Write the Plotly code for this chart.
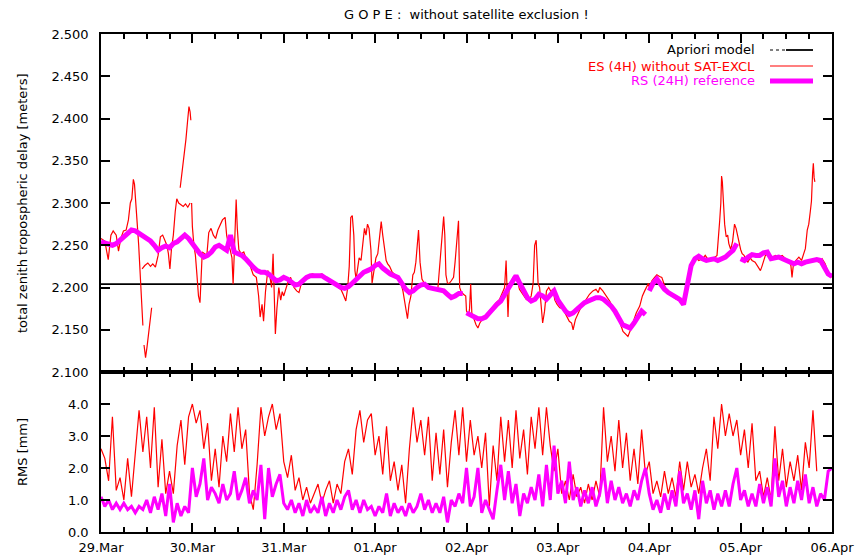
import plotly.graph_objects as go

# ---------------------------------------------------------------- data
# time axis: hours since 29.Mar 00:00
day_hours = [0, 24, 48, 72, 96, 120, 144, 168, 192]
day_labels = ["29.Mar", "30.Mar", "31.Mar", "01.Apr", "02.Apr",
              "03.Apr", "04.Apr", "05.Apr", "06.Apr"]

# a priori zenith delay (m)
apriori_ztd = 2.204

# RS (24H) reference ZTD, hourly 0..192 h (m)
rs_ztd = [
    2.254, 2.253, 2.251, 2.250, 2.252, 2.256, 2.261, 2.265, 2.268, 2.267,
    2.264, 2.261, 2.258, 2.255, 2.250, 2.244, 2.247, 2.249, 2.247, 2.252,
    2.254, 2.258, 2.262, 2.258, 2.252, 2.244, 2.240, 2.236, 2.238, 2.242,
    2.248, 2.250, 2.247, 2.244, 2.262, 2.242, 2.240, 2.238, 2.234, 2.228,
    2.224, 2.220, 2.218, 2.218, 2.216, 2.212, 2.208, 2.209, 2.212, 2.210,
    2.206, 2.203, 2.204, 2.208, 2.212, 2.214, 2.214, 2.213, 2.214, 2.211,
    2.208, 2.206, 2.202, 2.200, 2.199, 2.201, 2.205, 2.210, 2.214, 2.218,
    2.220, 2.222, 2.226, 2.228, 2.223, 2.219, 2.216, 2.214, 2.212, 2.205,
    2.198, 2.194, 2.196, 2.200, 2.203, 2.204, 2.200, 2.199, 2.198, 2.196,
    2.196, 2.192, 2.188, 2.190, 2.193, 2.193, 2.170, 2.168, 2.166, 2.163,
    2.163, 2.165, 2.170, 2.176, 2.180, 2.184, 2.192, 2.198, 2.208, 2.214,
    2.205, 2.195, 2.188, 2.184, 2.186, 2.192, 2.190, 2.186, 2.192, 2.196,
    2.185, 2.178, 2.172, 2.168, 2.170, 2.174, 2.178, 2.182, 2.184, 2.186,
    2.188, 2.188, 2.186, 2.182, 2.178, 2.172, 2.164, 2.156, 2.154, 2.152,
    2.158, 2.166, 2.172, 2.168, 2.196, 2.205, 2.210, 2.203, 2.198, 2.194,
    2.191, 2.189, 2.186, 2.180, 2.205, 2.226, 2.234, 2.237, 2.234, 2.232,
    2.233, 2.234, 2.232, 2.234, 2.236, 2.240, 2.244, 2.252, 2.234, 2.232,
    2.236, 2.239, 2.238, 2.238, 2.241, 2.242, 2.234, 2.235, 2.236, 2.234,
    2.232, 2.230, 2.228, 2.230, 2.228, 2.230, 2.231, 2.232, 2.233, 2.232,
    2.224, 2.216, 2.213,
]
# daily solutions that do not join up
rs_day_breaks = [96, 144, 168]

# ES (4H) ZTD without satellite exclusion: (hour, metres); None = pen up
es_ztd_samples = [
    (0.0, 2.258), (1.0, 2.255), (1.9, 2.233), (2.6, 2.262), (3.2, 2.267),
    (4.0, 2.262), (4.6, 2.243), (5.2, 2.258), (5.9, 2.267), (6.6, 2.268),
    (7.2, 2.280), (7.7, 2.300), (8.1, 2.305), (8.5, 2.328), (8.8, 2.322),
    (9.2, 2.300), (9.6, 2.270), (9.9, 2.250), (10.3, 2.215), (10.7, 2.180),
    (11.0, 2.155), (11.1, None),
    (11.3, 2.132), (11.7, 2.117), (12.1, 2.130), (12.5, 2.145), (12.9, 2.160),
    (13.3, 2.176), (13.4, None),
    (10.8, 2.222), (11.5, 2.226), (12.3, 2.229), (13.0, 2.225), (13.6, 2.228),
    (14.3, 2.224), (15.0, 2.238), (15.6, 2.260), (16.2, 2.262), (16.8, 2.255),
    (17.3, 2.250), (17.7, 2.240), (18.1, 2.222), (18.5, 2.245), (19.0, 2.262),
    (19.5, 2.290), (19.9, 2.305), (20.4, 2.300), (21.0, 2.298), (21.6, 2.296),
    (22.2, 2.299), (22.8, 2.295), (23.4, 2.300), (23.5, None),
    (20.8, 2.318), (21.3, 2.335), (21.8, 2.355), (22.3, 2.375), (22.7, 2.395),
    (23.1, 2.414), (23.4, 2.408), (23.6, 2.398), (23.7, None),
    (23.8, 2.300), (24.0, 2.272), (24.4, 2.250), (24.8, 2.238), (25.2, 2.215),
    (25.6, 2.190), (26.0, 2.182), (26.3, 2.205), (26.6, 2.242), (27.2, 2.240),
    (27.8, 2.238), (28.3, 2.265), (28.9, 2.270), (29.5, 2.262), (30.1, 2.258),
    (30.7, 2.268), (31.3, 2.275), (31.9, 2.280), (32.6, 2.283), (33.0, 2.262),
    (33.5, 2.250), (33.9, 2.245), (34.4, 2.235), (34.7, 2.204), (35.0, 2.240),
    (35.3, 2.290), (35.5, 2.304), (35.8, 2.270), (36.2, 2.245), (36.8, 2.240),
    (37.5, 2.242), (38.3, 2.232), (39.0, 2.228), (40.0, 2.215), (40.8, 2.212),
    (41.4, 2.190), (41.8, 2.165), (42.3, 2.180), (42.7, 2.160), (43.2, 2.195),
    (43.8, 2.220), (44.3, 2.215), (44.8, 2.200), (45.2, 2.240), (45.5, 2.170),
    (45.8, 2.145), (46.2, 2.175), (46.7, 2.200), (47.2, 2.185), (47.6, 2.195),
    (48.0, 2.190), (49.0, 2.205), (49.8, 2.212), (50.7, 2.200), (51.4, 2.196),
    (52.0, 2.194), (52.7, 2.206), (53.4, 2.210), (54.5, 2.214), (55.5, 2.216),
    (56.9, 2.214), (58.0, 2.216), (59.2, 2.212), (60.4, 2.208), (61.5, 2.205),
    (62.3, 2.200), (63.0, 2.198), (63.6, 2.192), (64.3, 2.184), (64.8, 2.200),
    (65.2, 2.225), (65.6, 2.283), (66.0, 2.285), (66.4, 2.262), (66.7, 2.220),
    (67.0, 2.210), (67.4, 2.226), (67.8, 2.235), (68.3, 2.232), (68.8, 2.250),
    (69.2, 2.270), (69.6, 2.262), (70.0, 2.275), (70.4, 2.270), (70.9, 2.244),
    (71.2, 2.205), (71.5, 2.215), (71.8, 2.228), (72.2, 2.235), (72.7, 2.240),
    (73.3, 2.265), (73.6, 2.278), (74.0, 2.262), (74.4, 2.245), (74.9, 2.232),
    (75.3, 2.228), (75.8, 2.225), (76.5, 2.218), (77.5, 2.214), (78.5, 2.210),
    (79.3, 2.196), (79.7, 2.185), (80.1, 2.170), (80.5, 2.163), (80.9, 2.180),
    (81.4, 2.190), (81.9, 2.215), (82.3, 2.218), (82.7, 2.230), (83.1, 2.258),
    (83.4, 2.268), (83.8, 2.230), (84.3, 2.210), (84.9, 2.205), (85.8, 2.200),
    (86.7, 2.198), (87.6, 2.200), (88.5, 2.200), (89.0, 2.230), (89.3, 2.243),
    (89.7, 2.262), (90.0, 2.284), (90.3, 2.262), (90.6, 2.215), (91.0, 2.205),
    (91.5, 2.205), (92.0, 2.208), (92.6, 2.212), (93.0, 2.230), (93.5, 2.262),
    (93.9, 2.279), (94.2, 2.200), (94.6, 2.195), (95.2, 2.192), (95.8, 2.190),
    (96.0, 2.172), (96.6, 2.168), (96.8, 2.175), (97.1, 2.204), (97.4, 2.170),
    (98.0, 2.162), (98.5, 2.156), (99.0, 2.152), (99.5, 2.158), (100.3, 2.163),
    (101.2, 2.168), (102.0, 2.172), (102.9, 2.178), (103.8, 2.182), (104.7, 2.186),
    (105.5, 2.194), (106.0, 2.200), (106.4, 2.232), (106.7, 2.200), (106.9, 2.165),
    (107.2, 2.200), (107.8, 2.206), (108.2, 2.212), (108.8, 2.214), (109.5, 2.206),
    (109.9, 2.198), (110.8, 2.192), (111.7, 2.186), (112.4, 2.184), (113.0, 2.190),
    (113.5, 2.205), (113.9, 2.250), (114.3, 2.256), (114.6, 2.230), (114.8, 2.205),
    (115.2, 2.200), (115.6, 2.175), (116.0, 2.158), (116.5, 2.172), (117.0, 2.196),
    (117.6, 2.200), (118.2, 2.195), (118.7, 2.198), (119.2, 2.185), (119.8, 2.180),
    (120.5, 2.176), (121.3, 2.175), (122.2, 2.166), (123.0, 2.160), (123.6, 2.158),
    (124.0, 2.150), (124.6, 2.162), (125.3, 2.170), (126.0, 2.176), (126.6, 2.180),
    (127.5, 2.186), (128.3, 2.192), (129.2, 2.196), (130.0, 2.198), (130.6, 2.194),
    (131.0, 2.200), (131.8, 2.196), (132.7, 2.190), (133.6, 2.184), (134.5, 2.176),
    (135.3, 2.168), (136.2, 2.160), (137.1, 2.148), (137.8, 2.145), (138.4, 2.142),
    (139.1, 2.150), (139.8, 2.160), (140.6, 2.170), (141.5, 2.178), (142.2, 2.190),
    (142.8, 2.196), (143.3, 2.200), (143.8, 2.205),
    (144.0, 2.200), (144.7, 2.208), (145.4, 2.212), (146.0, 2.215), (146.7, 2.213),
    (147.3, 2.212), (148.2, 2.200), (149.1, 2.192), (150.0, 2.190), (150.8, 2.187),
    (151.7, 2.185), (152.6, 2.183), (153.4, 2.190), (154.3, 2.210), (155.2, 2.228),
    (156.1, 2.236), (157.0, 2.232), (158.0, 2.234), (158.7, 2.238), (159.6, 2.232),
    (160.5, 2.234), (161.3, 2.236), (161.8, 2.238), (162.2, 2.258), (162.5, 2.279),
    (162.8, 2.300), (163.0, 2.332), (163.2, 2.325), (163.5, 2.298), (163.8, 2.275),
    (164.2, 2.260), (164.6, 2.262), (164.9, 2.252), (165.4, 2.245), (165.9, 2.255),
    (166.4, 2.275), (166.8, 2.270), (167.2, 2.262), (167.6, 2.252), (168.0, 2.245),
    (168.4, 2.240), (168.9, 2.238), (169.4, 2.232), (169.9, 2.230), (170.5, 2.235),
    (171.0, 2.232), (171.8, 2.230), (172.5, 2.225), (173.2, 2.220), (173.6, 2.225),
    (174.5, 2.238), (175.3, 2.240), (176.3, 2.236), (177.2, 2.238), (178.0, 2.236),
    (178.9, 2.238), (179.8, 2.234), (180.6, 2.232), (181.2, 2.226), (181.5, 2.212),
    (181.8, 2.225), (182.5, 2.232), (183.3, 2.236), (184.0, 2.232), (184.6, 2.240),
    (185.0, 2.246), (185.5, 2.268), (185.9, 2.275), (186.3, 2.290), (186.6, 2.302),
    (186.9, 2.335), (187.1, 2.347), (187.3, 2.330), (187.5, 2.325), (187.6, None),
    (187.8, 2.232), (188.6, 2.230), (189.4, 2.234), (190.2, 2.228), (191.0, 2.218),
    (191.6, 2.215), (192.0, 2.212),
]

# RMS of ES (4H) solutions, hourly 0..188 h (mm)
rms_es = [
    2.6, 2.3, 1.6, 3.6, 1.3, 1.7, 1.0, 2.3, 1.1, 2.6,
    3.8, 2.5, 3.6, 2.0, 3.9, 1.4, 2.9, 1.2, 1.9, 1.2,
    2.7, 3.5, 2.1, 3.6, 4.0, 3.4, 3.8, 2.6, 3.4, 1.6,
    2.6, 1.4, 3.0, 2.2, 3.7, 2.5, 3.9, 2.6, 3.2, 1.2,
    0.7, 2.1, 3.9, 3.0, 3.6, 4.0, 3.2, 3.7, 2.2, 1.7,
    2.4, 1.3, 1.7, 1.0, 1.4, 0.9, 1.2, 1.5, 0.9, 1.3,
    1.6, 0.9, 1.5, 1.2, 2.2, 2.6, 1.8, 3.2, 3.8, 2.8,
    3.5, 3.7, 2.4, 3.0, 1.8, 3.3, 1.6, 2.2, 1.3, 2.1,
    0.9, 2.6, 3.9, 2.8, 3.5, 2.4, 3.6, 1.6, 3.1, 1.8,
    3.2, 1.4, 2.8, 3.8, 2.4, 3.9, 2.2, 3.5, 2.4, 3.0,
    2.0, 3.1, 0.8, 2.7, 1.6, 3.6, 2.2, 3.5, 2.0, 3.8,
    2.3, 3.2, 1.8, 3.6, 2.6, 3.9, 2.4, 3.9, 2.7, 1.9,
    2.6, 1.2, 1.6, 1.0, 1.8, 1.1, 1.4, 0.9, 1.5, 1.0,
    1.6, 1.1, 3.9, 2.2, 3.0, 1.9, 3.5, 2.0, 3.1, 1.6,
    2.6, 1.5, 3.2, 1.8, 2.2, 1.2, 1.6, 1.1, 1.9, 1.2,
    1.7, 1.1, 2.2, 1.3, 2.2, 1.4, 1.8, 1.2, 2.0, 2.6,
    1.6, 3.6, 2.6, 4.0, 3.0, 3.7, 3.0, 3.5, 2.4, 3.2,
    2.0, 3.4, 1.6, 1.9, 1.1, 1.7, 1.0, 3.3, 1.6, 2.6,
    1.4, 2.2, 1.6, 2.4, 1.3, 2.8, 2.0, 3.8, 1.9,
]

# RMS of RS (24H) reference, hourly 0..192 h (mm)
rms_rs = [
    1.1, 0.8, 1.0, 0.7, 0.9, 0.7, 0.9, 0.7, 0.8, 0.6,
    0.8, 0.7, 1.0, 0.6, 1.1, 0.7, 1.2, 0.5, 1.5, 0.3,
    0.9, 0.5, 0.8, 0.6, 2.0, 1.1, 1.5, 2.3, 1.0, 1.4,
    1.2, 0.9, 1.5, 1.0, 1.2, 1.9, 1.0, 1.3, 1.7, 0.9,
    1.3, 1.0, 2.1, 0.4, 2.0, 1.1, 1.5, 1.8, 0.9, 0.7,
    1.0, 0.6, 0.9, 0.5, 1.0, 0.6, 0.8, 0.6, 1.1, 0.5,
    0.9, 0.6, 1.0, 0.7, 1.1, 1.3, 0.7, 1.0, 0.6, 1.0,
    0.7, 0.8, 0.5, 0.8, 0.6, 1.2, 0.5, 0.9, 0.6, 0.8,
    0.5, 0.9, 0.6, 0.8, 1.2, 0.7, 1.0, 0.6, 0.9, 0.6,
    1.1, 0.3, 1.0, 0.8, 1.2, 0.9, 2.0, 0.8, 1.1, 2.0,
    0.6, 1.0, 0.7, 0.4, 1.3, 2.1, 1.0, 1.9, 0.9, 1.5,
    0.5, 1.2, 0.9, 1.4, 1.0, 1.8, 0.8, 2.1, 1.0, 2.7,
    1.2, 1.6, 0.9, 2.2, 1.0, 1.4, 0.8, 1.3, 0.9, 1.4,
    0.8, 1.2, 2.0, 0.9, 1.6, 1.0, 1.4, 0.9, 1.2, 0.8,
    1.3, 1.0, 1.6, 2.0, 1.2, 0.7, 1.0, 0.6, 1.2, 0.7,
    1.3, 0.8, 1.9, 0.9, 1.2, 0.7, 1.3, 0.4, 1.6, 0.9,
    1.3, 0.7, 1.2, 0.8, 1.3, 0.8, 1.5, 2.0, 1.0, 1.3,
    0.8, 1.2, 0.8, 1.5, 0.9, 1.4, 0.8, 2.3, 1.1, 1.6,
    0.8, 1.4, 0.9, 1.6, 1.0, 1.8, 0.9, 1.4, 0.8, 1.2,
    1.0, 1.9, 2.0,
]

# ---------------------------------------------------------------- styles
RED = "#ff0000"
MAGENTA = "#ff00ff"
FONT = "DejaVu Sans"

W, H = 857, 558
ML, MR, MT, MB = 101, 25, 34, 26
PLOT_W = W - ML - MR
PLOT_H = H - MT - MB
LOWER_FRAC = 160 / PLOT_H  # height share of the RMS panel


def px_x(px):
    return (px - ML) / PLOT_W


def px_y(py):
    return (H - MB - py) / PLOT_H


# RS ZTD with pen-up points at daily breaks
rs_x, rs_y = [], []
for h, v in enumerate(rs_ztd):
    if h in rs_day_breaks:
        rs_x.append(h - 0.5)
        rs_y.append(None)
    rs_x.append(h)
    rs_y.append(v)

es_x = [t for t, _ in es_ztd_samples]
es_y = [v for _, v in es_ztd_samples]

fig = go.Figure()

# upper panel: ZTD
fig.add_trace(go.Scatter(
    x=[day_hours[0], day_hours[-1]], y=[apriori_ztd, apriori_ztd],
    mode="lines", line=dict(color="black", width=1.8),
    xaxis="x2", yaxis="y2", name="Apriori model"))
fig.add_trace(go.Scatter(
    x=es_x, y=es_y, mode="lines", line=dict(color=RED, width=1.2),
    connectgaps=False, xaxis="x2", yaxis="y2", name="ES (4H) without SAT-EXCL"))
fig.add_trace(go.Scatter(
    x=rs_x, y=rs_y, mode="lines", line=dict(color=MAGENTA, width=5),
    connectgaps=False, xaxis="x2", yaxis="y2", name="RS (24H) reference"))

# lower panel: RMS
fig.add_trace(go.Scatter(
    x=list(range(len(rms_es))), y=rms_es, mode="lines",
    line=dict(color=RED, width=1.2), xaxis="x", yaxis="y"))
fig.add_trace(go.Scatter(
    x=list(range(len(rms_rs))), y=rms_rs, mode="lines",
    line=dict(color=MAGENTA, width=3), xaxis="x", yaxis="y"))

axis_common = dict(
    showline=True, linecolor="black", linewidth=1.5, mirror="ticks",
    ticks="inside", tickcolor="black", tickwidth=1.5, showgrid=False,
    zeroline=False, automargin=False,
    tickfont=dict(family=FONT, size=13, color="black"),
)
minor_x = dict(tickmode="array", tickvals=list(range(0, 193, 6)),
               ticks="inside", ticklen=5, tickwidth=1.5, tickcolor="black",
               showgrid=False)

fig.update_layout(
    width=W, height=H,
    margin=dict(l=ML, r=MR, t=MT, b=MB),
    paper_bgcolor="white", plot_bgcolor="white",
    showlegend=False,
    font=dict(family=FONT, size=13, color="black"),
    xaxis=dict(
        **axis_common, domain=[0, 1], anchor="y", range=[0, 192],
        tickmode="array", tickvals=day_hours, ticktext=day_labels,
        ticklen=9, minor=minor_x, ticklabelstandoff=3,
    ),
    xaxis2=dict(
        **axis_common, domain=[0, 1], anchor="y2", range=[0, 192],
        matches="x", tickmode="array", tickvals=day_hours,
        showticklabels=False, ticklen=9, minor=minor_x,
    ),
    yaxis=dict(
        **axis_common, domain=[0, LOWER_FRAC], anchor="x", range=[0, 5],
        tickmode="array", tickvals=[0, 1, 2, 3, 4], tickformat=".1f",
        ticklen=9, ticklabelstandoff=8,
    ),
    yaxis2=dict(
        **axis_common, domain=[LOWER_FRAC, 1], anchor="x2", range=[2.1, 2.5],
        tickmode="linear", tick0=2.1, dtick=0.05, tickformat=".3f",
        ticklen=9, ticklabelstandoff=8,
    ),
)

# heavy separator between the two panels
fig.add_shape(type="line", xref="paper", yref="paper",
              x0=0, x1=1, y0=LOWER_FRAC, y1=LOWER_FRAC,
              line=dict(color="black", width=3))

annotations = [
    dict(text="G O P E :\u00a0\u00a0without satellite exclusion !",
         x=0.5, y=px_y(15), xanchor="center", yanchor="middle",
         font=dict(family=FONT, size=13)),
    dict(text="total zenith tropospheric delay [meters]", textangle=-90,
         x=px_x(22), y=(LOWER_FRAC + 1) / 2, xanchor="center",
         yanchor="middle", font=dict(family=FONT, size=13)),
    dict(text="RMS [mm]", textangle=-90,
         x=px_x(22), y=LOWER_FRAC / 2, xanchor="center", yanchor="middle",
         font=dict(family=FONT, size=13)),
]

# key: text right-aligned, line sample to its right
key_rows = [
    ("Apriori model", "black", px_y(50)),
    ("ES (4H) without SAT-EXCL", RED, px_y(66)),
    ("RS (24H) reference", MAGENTA, px_y(81)),
]
for label, colour, ky in key_rows:
    annotations.append(dict(text=label, x=px_x(757), y=ky, xanchor="right",
                            yanchor="middle",
                            font=dict(family=FONT, size=13, color=colour)))

for a in annotations:
    a.update(xref="paper", yref="paper", showarrow=False)
fig.update_layout(annotations=annotations)

ky = key_rows[0][2]
fig.add_shape(type="line", xref="paper", yref="paper", x0=px_x(770),
              x1=px_x(786), y0=ky, y1=ky,
              line=dict(color="black", width=1.2, dash="dot"))
fig.add_shape(type="line", xref="paper", yref="paper", x0=px_x(786),
              x1=px_x(813), y0=ky, y1=ky, line=dict(color="black", width=1.8))
ky = key_rows[1][2]
fig.add_shape(type="line", xref="paper", yref="paper", x0=px_x(770),
              x1=px_x(813), y0=ky, y1=ky, line=dict(color=RED, width=1.2))
ky = key_rows[2][2]
fig.add_shape(type="line", xref="paper", yref="paper", x0=px_x(770),
              x1=px_x(813), y0=ky, y1=ky, line=dict(color=MAGENTA, width=5))

fig.write_html("out.html")
